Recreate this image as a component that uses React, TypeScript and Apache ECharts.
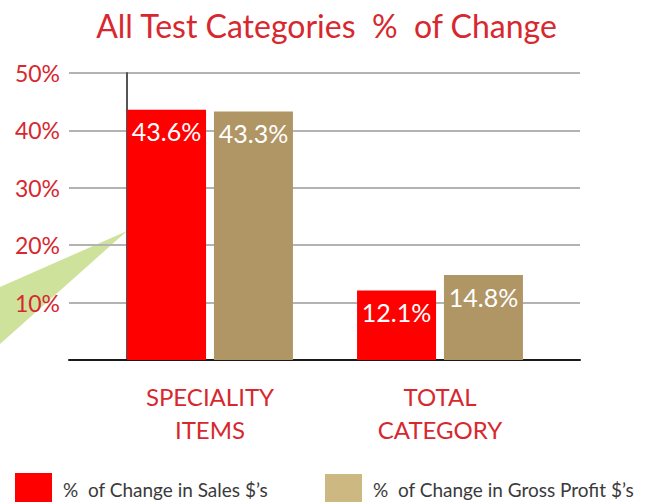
import React, { useEffect, useRef } from "react";
import * as echarts from "echarts";

const categories = ["SPECIALITY\nITEMS", "TOTAL\nCATEGORY"];
const salesChange = [43.6, 12.1];
const grossProfitChange = [43.3, 14.8];
const seriesNames = ["%  of Change in Sales $’s", "%  of Change in Gross Profit $’s"];
const titleText = "All Test Categories  %  of Change";
const yMin = 0;
const yMax = 50;
const yStep = 10;

const FONT = "Lato, 'Open Sans', sans-serif";
const RED_TEXT = "#d7282f";

export default function App() {
  const ref = useRef<HTMLDivElement>(null);
  useEffect(() => {
    document.body.style.margin = "0";
    const chart = echarts.init(ref.current!, null, { renderer: "svg" });
    const legendText = { color: "#3a3a3a", fontSize: 19, padding: [0, 0, 0, 6], fontFamily: FONT };
    chart.setOption({
      animation: false,
      backgroundColor: "#ffffff",
      textStyle: { fontFamily: FONT },
      title: {
        text: titleText,
        left: "center",
        top: 4,
        textStyle: { color: RED_TEXT, fontSize: 32, fontWeight: "normal", fontFamily: FONT },
      },
      graphic: [
        {
          type: "polygon",
          z: -10,
          shape: { points: [[0, 287], [127, 231], [0, 344]] },
          style: { fill: "#cfe29c" },
        },
      ],
      legend: [
        {
          data: [{ name: seriesNames[0], itemStyle: { color: "#ff0000" } }],
          left: 15,
          top: 473,
          padding: 0,
          itemWidth: 37,
          itemHeight: 33,
          icon: "rect",
          textStyle: legendText,
        },
        {
          data: [{ name: seriesNames[1], itemStyle: { color: "#cdb882" } }],
          left: 325,
          top: 474,
          padding: 0,
          itemWidth: 37,
          itemHeight: 31,
          icon: "rect",
          textStyle: legendText,
        },
      ],
      grid: [
        { left: 69, right: 73, top: 73, bottom: 142 },
        { left: 95, right: 98, top: 73, bottom: 142 },
      ],
      xAxis: [
        {
          gridIndex: 0,
          type: "value",
          min: 0,
          max: 1,
          axisLine: { show: true, lineStyle: { color: "#1a1a1a", width: 2 } },
          axisTick: { show: false },
          axisLabel: { show: false },
          splitLine: { show: false },
        },
        {
          gridIndex: 1,
          type: "category",
          data: categories,
          axisLine: { show: false },
          axisTick: { show: false },
          axisLabel: {
            color: RED_TEXT,
            fontSize: 24,
            lineHeight: 33,
            margin: 20,
            fontFamily: FONT,
          },
        },
      ],
      yAxis: [
        {
          gridIndex: 0,
          type: "value",
          min: yMin,
          max: yMax,
          interval: yStep,
          axisLine: { show: false },
          axisTick: { show: false },
          axisLabel: {
            color: RED_TEXT,
            fontSize: 23,
            margin: 9,
            fontFamily: FONT,
            formatter: (v: number) => (v === 0 ? "" : v + "%"),
          },
          splitLine: { show: true, lineStyle: { color: "#b3b3b3", width: 2 } },
        },
        {
          gridIndex: 1,
          type: "value",
          min: yMin,
          max: yMax,
          interval: yStep,
          offset: -32,
          axisLine: { show: true, lineStyle: { color: "#555555", width: 2 } },
          axisTick: { show: false },
          axisLabel: { show: false },
          splitLine: { show: false },
        },
      ],
      series: [
        {
          name: seriesNames[0],
          type: "bar",
          xAxisIndex: 1,
          yAxisIndex: 1,
          data: salesChange,
          barWidth: 79,
          barGap: "10%",
          itemStyle: { color: "#ff0000" },
          label: {
            show: true,
            position: "insideTop",
            distance: 9,
            color: "#ffffff",
            fontSize: 25,
            fontFamily: FONT,
            formatter: "{c}%",
          },
        },
        {
          name: seriesNames[1],
          type: "bar",
          xAxisIndex: 1,
          yAxisIndex: 1,
          data: grossProfitChange,
          barWidth: 79,
          barGap: "10%",
          itemStyle: { color: "#b09565" },
          label: {
            show: true,
            position: "insideTop",
            distance: 9,
            color: "#ffffff",
            fontSize: 25,
            fontFamily: FONT,
            formatter: "{c}%",
          },
        },
      ],
    });
    return () => chart.dispose();
  }, []);
  return <div ref={ref} style={{ width: 653, height: 502 }} />;
}
